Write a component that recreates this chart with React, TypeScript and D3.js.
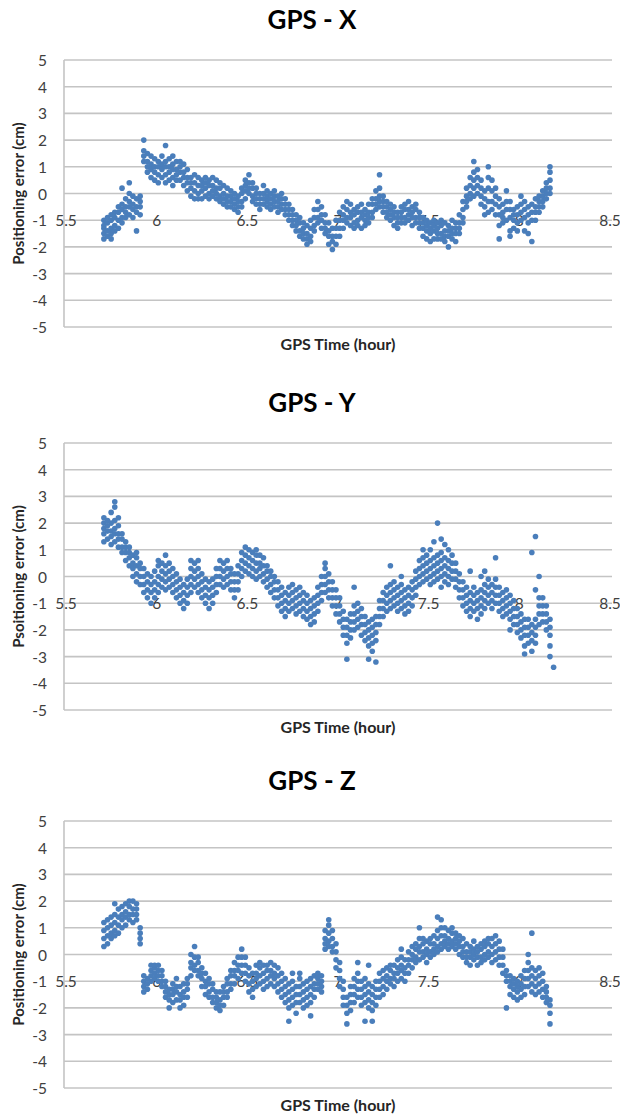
import React from "react";
import * as d3 from "d3";

// x ticks (GPS time, hour) and y ticks (cm)
const xTicks = [5.5, 6, 6.5, 7, 7.5, 8, 8.5];
const yTicks = [5, 4, 3, 2, 1, 0, -1, -2, -3, -4, -5];
const titles = ["GPS - X", "GPS - Y", "GPS - Z"];
const yTitles = ["Positioning error (cm)", "Psoitioning error (cm)", "Positioning error (cm)"];
const xTitle = "GPS Time (hour)";

// rows: [time, error values observed at that time...]
const gpsX: number[][] = [
  [5.72, -1.0, -1.3, -1.5, -1.7, -1.2],
  [5.74, -0.9, -1.1, -1.4, -1.6],
  [5.76, -0.8, -1.0, -1.3, -1.7, -1.5],
  [5.78, -0.7, -0.9, -1.2, -1.4],
  [5.80, -0.5, -0.7, -1.0, -1.3],
  [5.82, -0.4, -0.6, -0.9, -1.1, 0.2],
  [5.84, -0.2, -0.5, -0.7, -0.9],
  [5.86, 0.0, -0.3, -0.5, -0.8, 0.4],
  [5.88, -0.1, -0.4, -0.6, -0.9],
  [5.90, -0.2, -0.5, -0.7, -1.4],
  [5.92, -0.1, -0.3, -0.5, -0.8],
  [5.94, 2.0, 1.6, 1.4, 1.2],
  [5.96, 1.5, 1.2, 1.0, 0.8],
  [5.98, 1.4, 1.1, 0.9, 0.6],
  [6.00, 1.3, 1.0, 0.8, 0.5],
  [6.02, 1.2, 1.0, 0.7, 0.4],
  [6.04, 1.4, 1.1, 0.9, 0.6],
  [6.06, 1.8, 1.2, 1.0, 0.7, 0.4],
  [6.08, 1.3, 1.0, 0.8, 0.5],
  [6.10, 1.4, 1.1, 0.9, 0.6, 0.3],
  [6.12, 1.2, 0.9, 0.7, 0.5],
  [6.14, 1.2, 1.0, 0.8, 0.5],
  [6.16, 1.1, 0.8, 0.6, 0.3],
  [6.18, 0.9, 0.6, 0.4, 0.1],
  [6.20, 0.6, 0.4, 0.2, -0.1],
  [6.22, 0.7, 0.4, 0.1, -0.2],
  [6.24, 0.6, 0.3, 0.0, -0.2],
  [6.26, 0.5, 0.3, 0.1, -0.2],
  [6.28, 0.6, 0.4, 0.2, -0.1],
  [6.30, 0.5, 0.3, 0.0, -0.2],
  [6.32, 0.6, 0.3, 0.1, -0.1],
  [6.34, 0.5, 0.2, 0.0, -0.2],
  [6.36, 0.4, 0.2, -0.1, -0.3],
  [6.38, 0.3, 0.0, -0.2, -0.4],
  [6.40, 0.2, -0.1, -0.3, -0.5],
  [6.42, 0.1, -0.1, -0.3, -0.5],
  [6.44, 0.0, -0.2, -0.4, -0.6],
  [6.46, -0.1, -0.3, -0.5, -0.7],
  [6.48, 0.2, 0.0, -0.3, -0.5],
  [6.50, 0.5, 0.3, 0.1, -0.2],
  [6.52, 0.7, 0.4, 0.2, 0.0],
  [6.54, 0.4, 0.2, -0.1, -0.3],
  [6.56, 0.2, 0.0, -0.2, -0.4],
  [6.58, 0.0, -0.2, -0.4, -0.6],
  [6.60, 0.3, 0.0, -0.2, -0.4],
  [6.62, 0.1, -0.1, -0.3, -0.5],
  [6.64, 0.0, -0.2, -0.4, -0.6],
  [6.66, 0.1, -0.1, -0.3, -0.5],
  [6.68, -0.1, -0.3, -0.5, -0.7],
  [6.70, 0.0, -0.2, -0.4, -0.6],
  [6.72, -0.2, -0.4, -0.6, -0.8],
  [6.74, -0.4, -0.6, -0.8, -1.0],
  [6.76, -0.6, -0.8, -1.0, -1.2],
  [6.78, -0.8, -1.0, -1.2, -1.4],
  [6.80, -0.9, -1.1, -1.4, -1.6],
  [6.82, -1.1, -1.3, -1.5, -1.7],
  [6.84, -1.2, -1.5, -1.7, -1.9],
  [6.86, -1.0, -1.3, -1.6, -1.8],
  [6.88, -0.6, -0.9, -1.2, -1.4],
  [6.90, -0.3, -0.6, -0.9, -1.1],
  [6.92, -0.5, -0.8, -1.0, -1.3],
  [6.94, -0.8, -1.1, -1.3, -1.5],
  [6.96, -1.1, -1.4, -1.6, -1.9],
  [6.98, -1.3, -1.6, -1.8, -2.1],
  [7.00, -1.0, -1.3, -1.6, -1.9],
  [7.02, -0.7, -1.0, -1.3, -1.6],
  [7.04, -0.5, -0.8, -1.0, -1.3],
  [7.06, -0.3, -0.6, -0.9, -1.1],
  [7.08, -0.4, -0.7, -0.9, -1.2],
  [7.10, -0.6, -0.8, -1.1, -1.3],
  [7.12, -0.5, -0.7, -1.0, -1.2],
  [7.14, -0.4, -0.7, -0.9, -1.3],
  [7.16, -0.6, -0.8, -1.0, -1.2],
  [7.18, -0.4, -0.7, -0.9, -1.1],
  [7.20, -0.2, -0.4, -0.7, -0.9],
  [7.22, 0.1, -0.2, -0.4, -0.6],
  [7.24, 0.7, 0.2, -0.1, -0.3, -0.5],
  [7.26, -0.1, -0.3, -0.5, -0.7],
  [7.28, -0.3, -0.5, -0.7, -0.9],
  [7.30, -0.4, -0.6, -0.8, -1.0],
  [7.32, -0.5, -0.7, -0.9, -1.2],
  [7.34, -0.7, -0.9, -1.1, -1.3],
  [7.36, -0.5, -0.7, -0.9, -1.1],
  [7.38, -0.4, -0.6, -0.9, -1.1],
  [7.40, -0.3, -0.6, -0.8, -1.0],
  [7.42, -0.5, -0.7, -0.9, -1.2],
  [7.44, -0.4, -0.6, -0.9, -1.1],
  [7.46, -0.7, -0.9, -1.1, -1.3],
  [7.48, -0.9, -1.1, -1.3, -1.6],
  [7.50, -1.0, -1.2, -1.4, -1.7],
  [7.52, -1.1, -1.3, -1.5, -1.8],
  [7.54, -1.0, -1.2, -1.4, -1.7],
  [7.56, -1.1, -1.3, -1.5, -1.7],
  [7.58, -1.0, -1.2, -1.5, -1.7],
  [7.60, -1.1, -1.4, -1.6, -1.8],
  [7.62, -1.2, -1.4, -1.6, -2.0],
  [7.64, -1.0, -1.3, -1.5, -1.7],
  [7.66, -1.1, -1.3, -1.5, -1.8],
  [7.68, -0.8, -1.1, -1.3, -1.5],
  [7.70, -0.3, -0.6, -0.9, -1.1],
  [7.72, 0.2, -0.1, -0.3, -0.5],
  [7.74, 0.6, 0.3, 0.0, -0.2],
  [7.76, 1.2, 0.8, 0.5, 0.2, -0.1],
  [7.78, 0.9, 0.6, 0.3, 0.0],
  [7.80, 0.5, 0.2, -0.1, -0.4],
  [7.82, 0.1, -0.2, -0.5, -0.8],
  [7.84, 1.0, 0.6, 0.2, -0.3, -0.7],
  [7.86, 0.5, 0.1, -0.3, -0.6],
  [7.88, 0.2, -0.1, -0.4, -0.8],
  [7.90, -0.2, -0.5, -0.8, -1.2, -1.7],
  [7.92, -0.4, -0.7, -0.9, -1.1],
  [7.94, 0.1, -0.3, -0.6, -1.0],
  [7.96, -0.3, -0.6, -0.9, -1.4, -1.6],
  [7.98, -0.6, -0.8, -1.0, -1.3],
  [8.00, -0.5, -0.8, -1.1, -1.4],
  [8.02, -0.1, -0.4, -0.7, -1.0],
  [8.04, -0.3, -0.6, -0.9, -1.4],
  [8.06, -0.5, -0.8, -1.1, -1.5],
  [8.08, -0.4, -0.7, -1.0, -1.8],
  [8.10, -0.2, -0.5, -0.7, -1.0],
  [8.12, -0.1, -0.3, -0.5, -0.7],
  [8.14, 0.1, -0.1, -0.3, -0.5],
  [8.16, 0.4, 0.2, 0.0, -0.2],
  [8.18, 1.0, 0.8, 0.5, 0.2, 0.0],
];

const gpsY: number[][] = [
  [5.72, 1.3, 1.6, 1.8, 2.0, 2.2],
  [5.74, 1.4, 1.7, 1.9, 2.1],
  [5.76, 1.2, 1.5, 1.7, 2.0, 2.4],
  [5.78, 1.3, 1.6, 1.8, 2.1, 2.6, 2.8],
  [5.80, 1.1, 1.4, 1.6, 1.9, 2.2],
  [5.82, 0.9, 1.1, 1.4, 1.6],
  [5.84, 0.6, 0.9, 1.1, 1.3],
  [5.86, 0.4, 0.7, 0.9, 1.1],
  [5.88, 0.0, 0.3, 0.5, 0.8],
  [5.90, -0.2, 0.1, 0.4, 0.7, 0.9],
  [5.92, -0.3, 0.0, 0.3, 0.5],
  [5.94, -0.6, -0.3, 0.0, 0.3],
  [5.96, -0.8, -0.5, -0.2, 0.1],
  [5.98, -1.0, -0.6, -0.3, 0.0],
  [6.00, -0.8, -0.5, -0.2, 0.2],
  [6.02, -0.6, -0.3, 0.0, 0.4, 0.6],
  [6.04, -0.4, -0.1, 0.2, 0.5],
  [6.06, -0.5, -0.2, 0.1, 0.4, 0.8],
  [6.08, -0.4, -0.1, 0.2, 0.5],
  [6.10, -0.6, -0.3, 0.0, 0.3],
  [6.12, -0.8, -0.5, -0.2, 0.1],
  [6.14, -1.0, -0.7, -0.4, -0.1],
  [6.16, -1.2, -0.9, -0.6, -0.3],
  [6.18, -1.0, -0.7, -0.4, -0.1],
  [6.20, -0.6, -0.3, 0.0, 0.3, 0.6],
  [6.22, -0.4, -0.1, 0.2, 0.5],
  [6.24, -0.6, -0.3, 0.0, 0.3, 0.6],
  [6.26, -0.8, -0.5, -0.2, 0.1],
  [6.28, -1.0, -0.7, -0.4, -0.1],
  [6.30, -1.2, -0.8, -0.5, -0.2],
  [6.32, -1.0, -0.7, -0.4, -0.1],
  [6.34, -0.6, -0.3, 0.0, 0.3],
  [6.36, -0.3, 0.0, 0.3, 0.6],
  [6.38, -0.4, -0.1, 0.2, 0.5],
  [6.40, -0.3, 0.0, 0.3, 0.6],
  [6.42, -0.5, -0.2, 0.1, 0.3],
  [6.44, -0.8, -0.5, -0.2, 0.1],
  [6.46, -0.5, -0.2, 0.1, 0.4],
  [6.48, 0.0, 0.3, 0.6, 0.9],
  [6.50, 0.2, 0.5, 0.8, 1.1],
  [6.52, 0.1, 0.4, 0.7, 1.0],
  [6.54, 0.0, 0.3, 0.6, 0.9],
  [6.56, -0.1, 0.2, 0.5, 0.8, 1.0],
  [6.58, 0.0, 0.3, 0.5, 0.8],
  [6.60, -0.2, 0.1, 0.4, 0.7],
  [6.62, -0.4, -0.1, 0.2, 0.4],
  [6.64, -0.6, -0.3, 0.0, 0.2],
  [6.66, -0.8, -0.5, -0.2, 0.0],
  [6.68, -1.1, -0.8, -0.5, -0.2],
  [6.70, -1.3, -1.0, -0.7, -0.4],
  [6.72, -1.5, -1.2, -0.9, -0.6],
  [6.74, -1.3, -1.0, -0.7, -0.4],
  [6.76, -1.2, -0.9, -0.6, -0.3],
  [6.78, -1.4, -1.1, -0.8, -0.5],
  [6.80, -1.3, -1.0, -0.7, -0.4],
  [6.82, -1.5, -1.2, -0.9, -0.6],
  [6.84, -1.6, -1.3, -1.0, -0.7],
  [6.86, -1.8, -1.5, -1.2, -0.9],
  [6.88, -1.7, -1.4, -1.1, -0.8],
  [6.90, -1.3, -1.0, -0.7, -0.4],
  [6.92, -0.9, -0.6, -0.3, 0.0],
  [6.94, -0.6, -0.3, 0.0, 0.3, 0.5],
  [6.96, -0.8, -0.5, -0.2, 0.1],
  [6.98, -1.1, -0.8, -0.5, -0.2],
  [7.00, -1.4, -1.1, -0.8, -0.5],
  [7.02, -1.7, -1.4, -1.1, -0.8],
  [7.04, -2.2, -1.9, -1.6, -1.3],
  [7.06, -2.5, -2.2, -1.9, -1.6, -3.1],
  [7.08, -2.3, -2.0, -1.7, -1.4],
  [7.10, -2.0, -1.7, -1.4, -1.1, -0.4],
  [7.12, -1.9, -1.6, -1.3, -1.0],
  [7.14, -2.2, -1.8, -1.5, -1.2],
  [7.16, -2.4, -2.1, -1.8, -1.5],
  [7.18, -2.6, -2.3, -2.0, -1.7, -3.1],
  [7.20, -2.5, -2.2, -1.9, -1.6, -2.8],
  [7.22, -2.4, -2.1, -1.8, -1.5, -3.2],
  [7.24, -1.8, -1.5, -1.2, -0.9],
  [7.26, -1.5, -1.2, -0.9, -0.6],
  [7.28, -1.3, -1.0, -0.7, -0.4],
  [7.30, -1.2, -0.9, -0.6, -0.3, 0.4],
  [7.32, -1.1, -0.8, -0.5, -0.2],
  [7.34, -1.3, -1.0, -0.7, -0.4],
  [7.36, -1.2, -0.9, -0.6, -0.3, 0.0],
  [7.38, -1.4, -1.1, -0.8, -0.5],
  [7.40, -1.3, -1.0, -0.7, -0.4],
  [7.42, -1.1, -0.8, -0.5, -0.2],
  [7.44, -0.7, -0.4, -0.1, 0.2],
  [7.46, -0.3, 0.0, 0.3, 0.6],
  [7.48, -0.2, 0.1, 0.4, 0.7, 1.0],
  [7.50, -0.1, 0.2, 0.5, 0.8],
  [7.52, -0.3, 0.0, 0.3, 0.6, 1.0],
  [7.54, -0.2, 0.1, 0.4, 0.7, 1.3],
  [7.56, -0.1, 0.2, 0.5, 0.8, 2.0],
  [7.58, -0.4, 0.0, 0.3, 0.6, 0.9, 1.4],
  [7.60, -0.2, 0.1, 0.4, 0.7, 1.2],
  [7.62, -0.3, 0.0, 0.3, 0.6, 1.0],
  [7.64, -0.1, 0.2, 0.5, 0.8],
  [7.66, -0.4, -0.1, 0.2, 0.5],
  [7.68, -0.8, -0.5, -0.2, 0.1],
  [7.70, -1.1, -0.8, -0.5, -0.2],
  [7.72, -1.3, -1.0, -0.7, -0.4],
  [7.74, -1.5, -1.2, -0.9, -0.6, 0.2],
  [7.76, -1.3, -1.0, -0.7, -0.4],
  [7.78, -1.6, -1.2, -0.9, -0.6],
  [7.80, -1.4, -1.1, -0.8, -0.5, 0.0],
  [7.82, -1.2, -0.9, -0.6, -0.3, 0.2],
  [7.84, -1.0, -0.7, -0.4, -0.1],
  [7.86, -1.2, -0.9, -0.6, -0.3],
  [7.88, -1.0, -0.7, -0.4, -0.1, 0.7],
  [7.90, -1.3, -1.0, -0.7, -0.4],
  [7.92, -1.5, -1.2, -0.9, -0.6],
  [7.94, -1.4, -1.1, -0.8, -0.5],
  [7.96, -1.6, -1.3, -1.0, -0.7, -2.0],
  [7.98, -1.8, -1.5, -1.2, -0.9],
  [8.00, -2.1, -1.8, -1.5, -1.2],
  [8.02, -2.3, -2.0, -1.7, -1.4],
  [8.04, -2.6, -2.2, -1.9, -1.6, -2.9],
  [8.06, -2.5, -2.2, -1.9, -1.6],
  [8.08, -2.8, -2.4, -2.1, -1.8, 0.9],
  [8.10, -2.5, -2.2, -1.9, -1.6, 1.5, -0.5],
  [8.12, -1.8, -1.4, -1.1, -0.8, 0.0],
  [8.14, -1.7, -1.4, -1.1, -0.8],
  [8.16, -2.0, -1.7, -1.4, -1.1],
  [8.18, -2.2, -1.9, -1.6, -2.6, -3.0],
  [8.20, -3.4],
];

const gpsZ: number[][] = [
  [5.72, 0.3, 0.6, 0.9, 1.2],
  [5.74, 0.4, 0.7, 1.0, 1.3],
  [5.76, 0.6, 0.8, 1.1, 1.4],
  [5.78, 0.9, 1.2, 1.5, 1.9, 0.7],
  [5.80, 0.8, 1.1, 1.4, 1.7],
  [5.82, 1.0, 1.3, 1.5, 1.8],
  [5.84, 1.1, 1.4, 1.6, 1.9],
  [5.86, 1.3, 1.5, 1.8, 2.0],
  [5.88, 1.2, 1.5, 1.7, 2.0],
  [5.90, 1.3, 1.5, 1.7, 1.9],
  [5.92, 0.4, 0.6, 0.8, 1.0],
  [5.94, -1.4, -1.2, -1.0, -0.8],
  [5.96, -1.3, -1.1, -0.9],
  [5.98, -1.0, -0.8, -0.6, -0.4],
  [6.00, -0.9, -0.7, -0.5, -0.4],
  [6.02, -1.0, -0.8, -0.6, -0.4],
  [6.04, -1.2, -1.0, -0.8, -0.6],
  [6.06, -1.6, -1.4, -1.2, -1.0],
  [6.08, -2.0, -1.7, -1.5, -1.3],
  [6.10, -1.8, -1.5, -1.3, -1.1],
  [6.12, -1.7, -1.4, -1.2, -0.9],
  [6.14, -2.0, -1.7, -1.5, -1.2],
  [6.16, -1.9, -1.6, -1.4, -1.1],
  [6.18, -1.6, -1.3, -1.1, -0.9],
  [6.20, -0.8, -0.5, -0.3, 0.0],
  [6.22, -0.6, -0.4, -0.1, 0.3],
  [6.24, -0.8, -0.6, -0.3, -0.1],
  [6.26, -1.2, -0.9, -0.7, -0.5],
  [6.28, -1.5, -1.2, -1.0, -0.7],
  [6.30, -1.6, -1.4, -1.1, -0.9],
  [6.32, -1.8, -1.6, -1.3, -1.1],
  [6.34, -2.0, -1.8, -1.6, -1.4],
  [6.36, -2.1, -1.9, -1.7, -1.4],
  [6.38, -1.9, -1.6, -1.4, -1.2],
  [6.40, -1.6, -1.4, -1.1, -0.9],
  [6.42, -1.3, -1.1, -0.8, -0.6],
  [6.44, -1.1, -0.8, -0.6, -0.3],
  [6.46, -0.9, -0.6, -0.4, -0.1],
  [6.48, -0.7, -0.4, -0.1, 0.2],
  [6.50, -1.0, -0.7, -0.4, -0.1],
  [6.52, -1.4, -1.1, -0.8, -0.5],
  [6.54, -1.6, -1.3, -1.0, -0.7],
  [6.56, -1.2, -0.9, -0.7, -0.4],
  [6.58, -1.1, -0.8, -0.5, -0.3],
  [6.60, -1.3, -1.0, -0.7, -0.4],
  [6.62, -1.2, -0.9, -0.6, -0.4],
  [6.64, -1.1, -0.8, -0.6, -0.3],
  [6.66, -1.2, -0.9, -0.7, -0.4],
  [6.68, -1.4, -1.1, -0.8, -0.5],
  [6.70, -1.6, -1.3, -1.0, -0.7],
  [6.72, -1.8, -1.5, -1.2, -0.9],
  [6.74, -2.0, -1.7, -1.4, -1.1, -2.5],
  [6.76, -1.9, -1.6, -1.3, -1.0, -0.7],
  [6.78, -2.2, -1.8, -1.5, -1.2],
  [6.80, -1.8, -1.5, -1.2, -0.9, -0.7],
  [6.82, -2.0, -1.7, -1.4, -1.1],
  [6.84, -1.9, -1.6, -1.3, -1.0],
  [6.86, -1.8, -1.5, -1.2, -0.9, -2.3],
  [6.88, -1.6, -1.3, -1.1, -0.8],
  [6.90, -1.3, -1.1, -0.9, -0.7],
  [6.92, -1.4, -1.2, -1.0, -0.8],
  [6.94, 0.2, 0.4, 0.6, 0.9],
  [6.96, 0.3, 0.5, 0.8, 1.1, 1.3],
  [6.98, 0.1, 0.3, 0.6, 0.9],
  [7.00, -0.5, -0.2, 0.1, 0.4],
  [7.02, -1.2, -0.9, -0.6, -0.3],
  [7.04, -1.9, -1.6, -1.3, -1.0],
  [7.06, -2.2, -1.9, -1.6, -2.6],
  [7.08, -2.1, -1.8, -1.5, -1.2],
  [7.10, -1.8, -1.5, -1.2, -0.9],
  [7.12, -1.6, -1.3, -1.0, -0.7, -0.3],
  [7.14, -1.9, -1.6, -1.3, -1.0],
  [7.16, -1.8, -1.5, -1.2, -0.9, -2.5],
  [7.18, -2.0, -1.7, -1.4, -1.1, -0.4],
  [7.20, -2.1, -1.8, -1.5, -1.2, -2.5],
  [7.22, -1.9, -1.6, -1.3, -1.0],
  [7.24, -1.6, -1.3, -1.0, -0.7],
  [7.26, -1.5, -1.2, -0.9, -0.6],
  [7.28, -1.3, -1.0, -0.8, -0.5],
  [7.30, -1.1, -0.9, -0.6, -0.4],
  [7.32, -1.2, -0.9, -0.7, -0.4],
  [7.34, -1.0, -0.7, -0.5, -0.2],
  [7.36, -0.9, -0.6, -0.4, -0.1, 0.2],
  [7.38, -1.0, -0.7, -0.5, -0.2],
  [7.40, -0.7, -0.4, -0.2, 0.1],
  [7.42, -0.5, -0.2, 0.0, 0.3],
  [7.44, -0.3, -0.1, 0.2, 0.4],
  [7.46, -0.2, 0.1, 0.3, 0.6, 1.0],
  [7.48, -0.1, 0.1, 0.4, 0.6],
  [7.50, -0.3, 0.0, 0.2, 0.5],
  [7.52, -0.1, 0.1, 0.4, 0.6],
  [7.54, 0.0, 0.2, 0.4, 0.7],
  [7.56, 0.1, 0.3, 0.6, 0.9, 1.4],
  [7.58, 0.2, 0.4, 0.7, 1.0, 1.3],
  [7.60, 0.3, 0.5, 0.7, 1.0],
  [7.62, 0.2, 0.4, 0.6, 0.9],
  [7.64, 0.3, 0.5, 0.8, 1.0],
  [7.66, 0.2, 0.4, 0.6, 0.8],
  [7.68, 0.0, 0.3, 0.5, 0.7],
  [7.70, -0.1, 0.1, 0.3, 0.6],
  [7.72, -0.3, -0.1, 0.1, 0.4],
  [7.74, -0.4, -0.1, 0.1, 0.3],
  [7.76, -0.2, 0.0, 0.2, 0.5],
  [7.78, -0.4, -0.1, 0.1, 0.3],
  [7.80, -0.3, -0.1, 0.2, 0.4],
  [7.82, -0.2, 0.0, 0.3, 0.5],
  [7.84, -0.1, 0.1, 0.4, 0.6],
  [7.86, -0.3, 0.0, 0.3, 0.6],
  [7.88, -0.2, 0.1, 0.4, 0.7],
  [7.90, -0.4, -0.1, 0.2, 0.5],
  [7.92, -0.7, -0.4, -0.1, 0.2],
  [7.94, -1.0, -0.8, -0.6, -2.0],
  [7.96, -1.5, -1.2, -1.0, -0.8],
  [7.98, -1.6, -1.3, -1.1, -0.9],
  [8.00, -1.7, -1.4, -1.2, -1.0],
  [8.02, -1.6, -1.3, -1.1, -0.8],
  [8.04, -1.5, -1.2, -0.9, -0.6],
  [8.06, -1.2, -0.9, -0.6, -0.3, 0.0],
  [8.08, -1.4, -1.1, -0.8, -0.5, 0.8],
  [8.10, -1.5, -1.2, -0.9, -0.6],
  [8.12, -1.4, -1.1, -0.8, -0.5],
  [8.14, -1.6, -1.3, -1.0, -0.7],
  [8.16, -1.8, -1.6, -1.4, -1.2],
  [8.18, -2.2, -1.9, -1.7, -2.6],
];

const FONT = "Lato, 'Noto Sans', sans-serif";
const W = 620;
const H = 1115;
const plotLeft = 64;
const plotRight = 608;
const plotH = 267;
const panelTops = [60, 443, 821];
const seriesList = [gpsX, gpsY, gpsZ];

function Panel({ top, title, yTitle, rows }: { top: number; title: string; yTitle: string; rows: number[][] }) {
  const x = d3.scaleLinear().domain([5.5, 8.5]).range([plotLeft, plotRight]);
  const y = d3.scaleLinear().domain([-5, 5]).range([top + plotH, top]);
  const pts = rows.flatMap(([t, ...ys]) => ys.map((v) => [t, v] as [number, number]));
  const midY = (y(5) + y(-5)) / 2;
  return (
    <g>
      <text x={W / 2 + 2} y={top - 41} textAnchor="middle" dominantBaseline="central" fontFamily={FONT} fontWeight={700} fontSize={26} fill="#000">
        {title}
      </text>
      {yTicks.map((v) => (
        <line key={"g" + v} x1={plotLeft} x2={plotRight + 4} y1={y(v)} y2={y(v)} stroke="#c4c4c4" strokeWidth={1.6} />
      ))}
      <line x1={plotLeft} x2={plotLeft} y1={y(5)} y2={y(-5)} stroke="#c4c4c4" strokeWidth={1.6} />
      {yTicks.map((v) => (
        <text key={"yl" + v} x={47} y={y(v)} textAnchor="end" dominantBaseline="central" fontFamily={FONT} fontSize={15.5} fill="#404040">
          {v}
        </text>
      ))}
      {xTicks.map((v) => (
        <text key={"xl" + v} x={x(v) + 2} y={y(-1)} textAnchor="middle" dominantBaseline="central" fontFamily={FONT} fontSize={15.5} fill="#404040">
          {v}
        </text>
      ))}
      {pts.map(([t, v], i) => (
        <circle key={i} cx={x(t)} cy={y(v)} r={2.8} fill="#4a7ebb" />
      ))}
      <text x={(plotLeft + plotRight) / 2 + 2} y={y(-5) + 16} textAnchor="middle" dominantBaseline="central" fontFamily={FONT} fontWeight={700} fontSize={16} fill="#262626">
        {xTitle}
      </text>
      <text transform={`translate(18,${midY}) rotate(-90)`} textAnchor="middle" dominantBaseline="central" fontFamily={FONT} fontWeight={700} fontSize={15} fill="#262626">
        {yTitle}
      </text>
    </g>
  );
}

export default function App() {
  return (
    <div style={{ position: "absolute", left: 0, top: 0, background: "#fff" }}>
      <svg width={W} height={H} viewBox={`0 0 ${W} ${H}`} style={{ display: "block" }}>
        <rect width={W} height={H} fill="#fff" />
        {seriesList.map((rows, i) => (
          <Panel key={i} top={panelTops[i]} title={titles[i]} yTitle={yTitles[i]} rows={rows} />
        ))}
      </svg>
    </div>
  );
}
